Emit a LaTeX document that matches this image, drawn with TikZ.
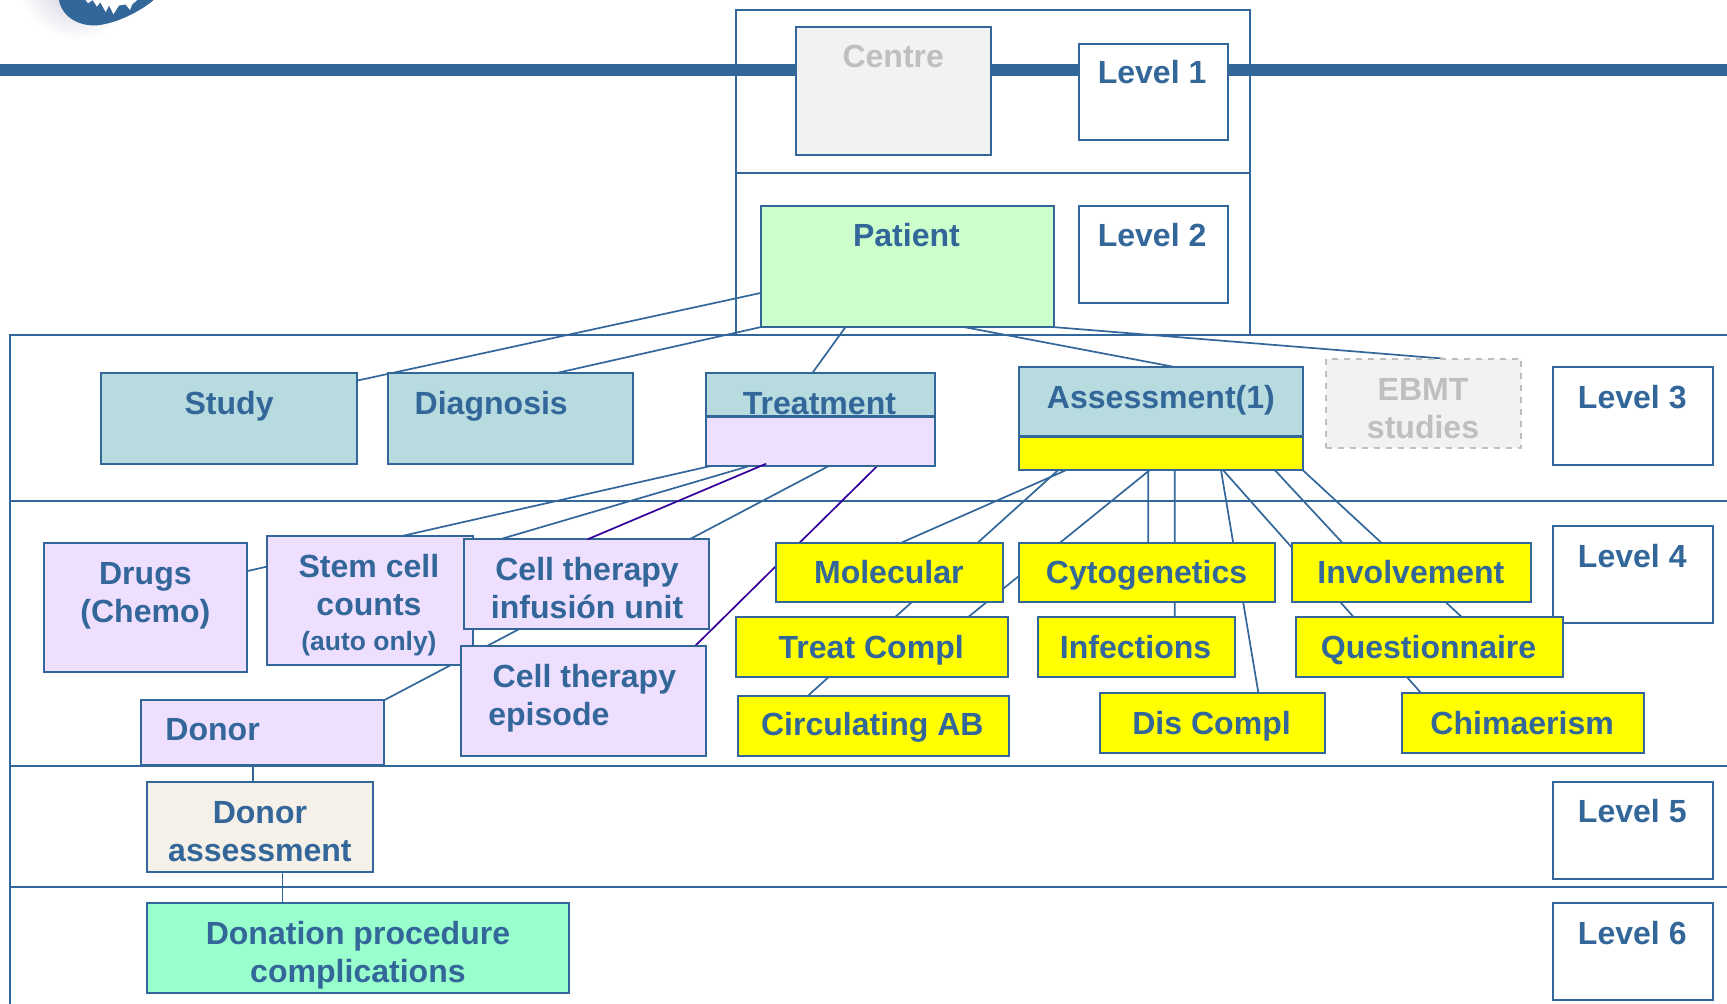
\documentclass[tikz,border=0pt]{standalone}
\usepackage{fontspec}
\setmainfont{Liberation Sans}
\usetikzlibrary{calc}
\pgfdeclarelayer{back}
\pgfdeclarelayer{links}
\pgfsetlayers{back,links,main}
\definecolor{ebmt}{HTML}{336699}
\definecolor{tealbox}{HTML}{B7DBDF}
\definecolor{lilac}{HTML}{EFDFFF}
\definecolor{mint}{HTML}{CCFFCC}
\definecolor{seafoam}{HTML}{99FFCC}
\definecolor{cream}{HTML}{F5F0E8}
\definecolor{paleg}{HTML}{F2F2F2}
\definecolor{greytxt}{HTML}{BFBFBF}
\definecolor{darkv}{HTML}{330099}
\definecolor{pureyellow}{RGB}{255,255,0}
\definecolor{shadowc}{HTML}{C4C4D8}
\newcommand\bx[6]{%
  \pgfmathsetlengthmacro\bw{(#4-#2-0.6)*0.55pt}%
  \pgfmathsetlengthmacro\bh{(#5-#3-0.6)*0.55pt}%
  \node[boxstyle,#6,minimum width=\bw,minimum height=\bh] (#1) at ({(#2+#4)/2+0.3},{(#3+#5)/2+0.3}) {};}
\tikzset{
  x=0.55pt,y=-0.55pt,
  boxstyle/.style={draw=ebmt,line width=1pt,inner sep=0pt,outer sep=0pt,rectangle},
  frame/.style={draw=ebmt,line width=1pt},
  link/.style={draw=ebmt,line width=0.85pt},
  vlink/.style={draw=darkv,line width=0.85pt},
  lbl/.style={text=ebmt,font=\bfseries\fontsize{16}{19}\selectfont,align=center,inner sep=0pt,text height=11.2pt,text depth=0pt},
  greylbl/.style={lbl,text=greytxt},
  teal/.style={fill=tealbox},
  purple/.style={fill=lilac},
  yellowbox/.style={fill=pureyellow},
}
\begin{document}
\begin{tikzpicture}
\useasboundingbox (0,0) rectangle (1568,910.7);
% logo fragment
\begin{scope}
\clip (0,0) rectangle (1568,910.7);
\shade[inner color=shadowc,outer color=white] (70,-18) circle (54);
\fill[ebmt] (53,-4) .. controls (54,14) and (70,24) .. (88,23) .. controls (108,21) and (132,8) .. (144,-4) -- cycle;
\fill[white] (76,-2) -- (80,3) -- (84,0) -- (88,6) -- (91,2) -- (96,11) -- (99,5) -- (103,13) -- (108,5) -- (114,4) -- (118,9) -- (120,4) -- (127,-2) -- cycle;
\end{scope}
% frames and bar
\begin{pgfonlayer}{back}
\node[frame,fill=white,inner sep=0pt,outer sep=0pt,minimum width=256.85pt,minimum height=81.4pt] (tierone) at (901.5,83) {};
\node[frame,fill=white,inner sep=0pt,outer sep=0pt,minimum width=256.85pt,minimum height=80.85pt] (tiertwo) at (901.5,230.5) {};
\fill[ebmt] (0,58) rectangle (1568,69);
\coordinate (rowtl) at (9,304);
\coordinate (rowtr) at (1570,304);
\coordinate (rowbl) at (9,915);
\draw[frame] (rowbl) -- (rowtl) -- (rowtr);
\foreach \yy in {455,695.5,805.5}{\draw[frame] (9,\yy) -- (1570,\yy);}
\end{pgfonlayer}
% level 1-2
\bx{centre}{722}{24}{900}{141}{fill=paleg}
\node[greylbl] (centret) at (811,51) {Centre};
\bx{lone}{979}{39}{1115}{127}{fill=white}
\node[lbl] (lonet) at (1046,66) {Level 1};
\bx{patient}{690}{186}{957}{297}{fill=mint}
\node[lbl] (patientt) at (823,214) {Patient};
\bx{ltwo}{979}{186}{1115}{275}{fill=white}
\node[lbl] (ltwot) at (1046,214) {Level 2};
% level 3
\bx{study}{91}{338}{324}{421}{teal}
\node[lbl] (studyt) at (208,366) {Study};
\bx{diagnosis}{352}{338}{575}{421}{teal}
\node[lbl] (diagnosist) at (446,366) {Diagnosis};
\bx{treatment}{640}{338}{849}{378}{teal}
\node[lbl] (treatmentt) at (744,366) {Treatment};
\bx{treatsub}{640}{378}{849}{423}{purple}
\bx{assess}{925}{333}{1183}{396}{teal}
\node[lbl] (assesst) at (1054,361) {Assessment(1)};
\bx{assesssub}{925}{396.5}{1183}{427}{yellowbox}
\bx{ebmt}{1203}{325}{1381}{407}{draw=greytxt,dashed,fill=paleg}
\node[greylbl] (ebmtt) at (1292,388) {EBMT\\studies};
\bx{lthree}{1409}{333}{1555}{422}{fill=white}
\node[lbl] (lthreet) at (1482,361) {Level 3};
% level 4
\bx{lfour}{1409}{477}{1555}{566}{fill=white}
\node[lbl] (lfourt) at (1482,505) {Level 4};
\bx{drugs}{39}{492}{224}{610}{purple}
\node[lbl] (drugst) at (132,555) {Drugs\\(Chemo)};
\bx{stem}{242}{486}{429}{604}{purple}
\node[lbl] (stemt) at (335,549) {Stem cell\\counts};
\node[lbl,font=\bfseries\fontsize{13.2}{16}\selectfont] (stemn) at (335,580) {(auto only)};
\bx{infusion}{421}{489}{644}{571}{purple}
\node[lbl] (infusiont) at (533,551) {Cell therapy\\infusión unit};
\bx{episode}{418}{586}{641}{686}{purple}
\node[lbl,align=left,anchor=west] (episodet) at (443,648.5) {\hspace*{2.2pt}Cell therapy\\episode};
\bx{donor}{127}{635}{349}{695}{purple}
\node[lbl] (donort) at (193,662) {Donor};
\bx{molecular}{704}{492}{911}{547}{yellowbox}
\node[lbl] (moleculart) at (807,520) {Molecular};
\bx{cyto}{925}{492}{1158}{547}{yellowbox}
\node[lbl] (cytot) at (1041,520) {Cytogenetics};
\bx{involve}{1172}{492}{1390}{547}{yellowbox}
\node[lbl] (involvet) at (1281,520) {Involvement};
\bx{treatc}{668}{560}{915}{615}{yellowbox}
\node[lbl] (treatct) at (791,588) {Treat Compl};
\bx{infect}{942}{560}{1121}{615}{yellowbox}
\node[lbl] (infectt) at (1031,588) {Infections};
\bx{quest}{1176}{560}{1419}{615}{yellowbox}
\node[lbl] (questt) at (1297,588) {Questionnaire};
\bx{circ}{669}{631}{916}{686}{yellowbox}
\node[lbl] (circt) at (792,658) {Circulating AB};
\bx{disc}{998}{629}{1203}{684}{yellowbox}
\node[lbl] (disct) at (1100,657) {Dis Compl};
\bx{chim}{1272}{629}{1493}{684}{yellowbox}
\node[lbl] (chimt) at (1382,657) {Chimaerism};
% level 5-6
\bx{donass}{133}{709}{339}{792}{fill=cream}
\node[lbl] (donasst) at (236,772) {Donor\\assessment};
\bx{lfive}{1409}{709}{1555}{798}{fill=white}
\node[lbl] (lfivet) at (1482,737) {Level 5};
\bx{donation}{133}{819}{517}{902}{fill=seafoam}
\node[lbl] (donationt) at (325,882) {Donation procedure\\complications};
\bx{lsix}{1409}{819}{1555}{908}{fill=white}
\node[lbl] (lsixt) at (1482,847) {Level 6};
% connector drawn over its source box
\draw[vlink] ($(treatsub.south west)+(55,-2)$) -- ($(infusion.north west)+(112,0)$);
% connectors
\begin{pgfonlayer}{links}
\draw[link] ($(patient.south west)+(0,-31)$) -- ($(study.north east)+(0,7)$);
\draw[link] (patient.south west) -- ($(diagnosis.north west)+(153,0)$);
\draw[link] ($(patient.south west)+(77,0)$) -- ($(treatment.north west)+(97,0)$);
\draw[link] ($(patient.south west)+(185,0)$) -- ($(assess.north west)+(143,0)$);
\draw[link] (patient.south east) -- ($(ebmt.north west)+(107,0)$);
\draw[link] ($(treatsub.south west)+(5,0)$) -- ($(drugs.north east)+(0,26)$);
\draw[link] ($(treatsub.south west)+(40,0)$) -- ($(stem.north east)+(-60,28)$);
\draw[link] ($(treatsub.south west)+(112,0)$) -- ($(donor.north east)$);
\draw[vlink] ($(treatsub.south west)+(156,0)$) -- ($(episode.north east)+(-10,0)$);
\draw[link] ($(assesssub.south west)+(42,0)$) -- ($(molecular.north west)+(114,0)$);
\draw[link] ($(assesssub.south west)+(35,0)$) -- ($(circ.north west)+(64,0)$);
\draw[link] ($(assesssub.south west)+(118,0)$) -- ($(treatc.north west)+(210,0)$);
\draw[link] ($(assesssub.south west)+(117,0)$) -- ($(cyto.north west)+(117,0)$);
\draw[link] ($(assesssub.south west)+(141,0)$) -- ($(infect.north west)+(124,0)$);
\draw[link] ($(assesssub.south west)+(183,0)$) -- ($(disc.north west)+(144,0)$);
\draw[link] ($(assesssub.south west)+(185,0)$) -- ($(chim.north west)+(18,0)$);
\draw[link] ($(assesssub.south west)+(232,0)$) -- ($(involve.north west)+(46,0)$);
\draw[link] (assesssub.south east) -- ($(quest.north west)+(151,0)$);
\draw[link] ($(donor.south west)+(102,0)$) -- ($(donass.north west)+(96,0)$);
\draw[link] ($(donass.south west)+(123,0)$) -- ($(donation.north west)+(123,0)$);
\end{pgfonlayer}
\end{tikzpicture}
\end{document}
